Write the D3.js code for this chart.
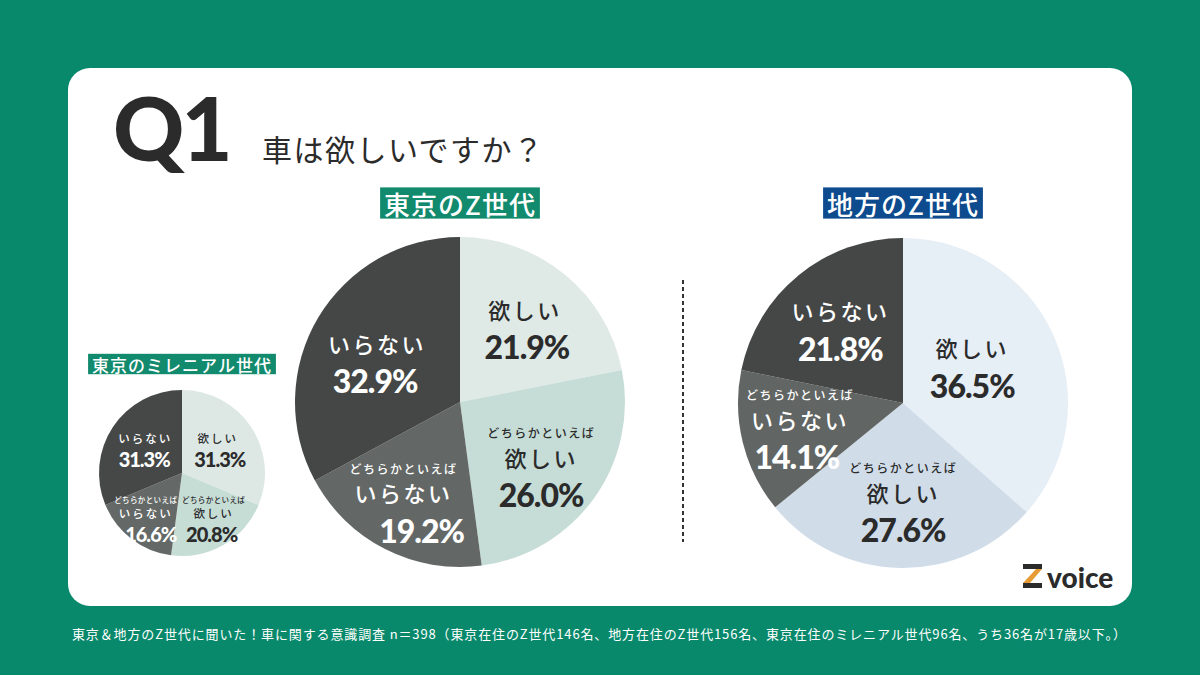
<!DOCTYPE html>
<html lang="ja">
<head>
<meta charset="utf-8">
<script src="https://d3js.org/d3.v7.min.js"></script>
<style>
  body { margin: 0; background: #08896b; }
  svg { display: block; }
  .jp { font-family: "Noto Sans CJK JP", sans-serif; }
  .num { font-family: Lato, "Noto Sans", sans-serif; font-weight: 900; }
</style>
</head>
<body>
<svg width="1200" height="675"></svg>
<script>
// answer categories, clockwise from 12 o'clock
var categories = ["欲しい", "どちらかといえば欲しい", "どちらかといえばいらない", "いらない"];
var mainLabels = ["欲しい", "欲しい", "いらない", "いらない"];
var prefixLabels = ["", "どちらかといえば", "どちらかといえば", ""];

// percentages
var millennialValues = [31.3, 20.8, 16.6, 31.3];
var tokyoZValues = [21.9, 26.0, 19.2, 32.9];
var localZValues = [36.5, 27.6, 14.1, 21.8];

var chartTitles = ["東京のミレニアル世代", "東京のZ世代", "地方のZ世代"];

var footnote = "東京＆地方のZ世代に聞いた！車に関する意識調査 n＝398（東京在住のZ世代146名、地方在住のZ世代156名、東京在住のミレニアル世代96名、うち36名が17歳以下。）";

var svg = d3.select("svg");

// white card
svg.append("rect")
    .attr("x", 68).attr("y", 68)
    .attr("width", 1064).attr("height", 538)
    .attr("rx", 22)
    .attr("fill", "#ffffff");

// heading
svg.append("text")
    .attr("class", "num")
    .attr("x", 113).attr("y", 161)
    .attr("font-size", 88)
    .attr("letter-spacing", -3)
    .attr("fill", "#2b2b2b")
    .text("Q1");

svg.append("text")
    .attr("class", "jp")
    .attr("x", 262).attr("y", 161)
    .attr("font-size", 30)
    .attr("letter-spacing", 1.5)
    .attr("fill", "#2b2b2b")
    .text("車は欲しいですか？");

// one pie per group; nudge = [dx, dy, extra dx of the % line] per slice
var charts = [
  { values: millennialValues, title: chartTitles[0], cx: 182, cy: 473, r: 83,
    colors: ["#dde8e5", "#c6ddd6", "#646967", "#454847"], badge: "#128a6d",
    badgeY: 364, badgeFont: 17, smallFont: 7.5, smallSp: 0.4, mainFont: 11.5, mainSp: 2, pctFont: 20,
    gapSM: 13, gapMP: 21, k: 0.62,
    nudge: [[-7, 4, 2], [6, -1, -2], [-5, 3, 5], [6, 4, -1]] },
  { values: tokyoZValues, title: chartTitles[1], cx: 460, cy: 402, r: 165,
    colors: ["#dfe9e6", "#c5ddd6", "#636866", "#444746"], badge: "#128a6d",
    badgeY: 203, badgeFont: 26, smallFont: 12, smallSp: 1.5, mainFont: 22, mainSp: 2.5, pctFont: 32,
    gapSM: 24, gapMP: 38, k: 0.62,
    nudge: [[0, 5, 2], [-2, 2, 0], [-10, 6, 18], [5, 12, -2]] },
  { values: localZValues, title: chartTitles[2], cx: 903, cy: 403, r: 165,
    colors: ["#e6eef6", "#d0dde9", "#616563", "#444746"], badge: "#0d4b8e",
    badgeY: 203, badgeFont: 26, smallFont: 12, smallSp: 1.5, mainFont: 22, mainSp: 2.5, pctFont: 32,
    gapSM: 24, gapMP: 38, k: 0.6,
    nudge: [[-21, 4, 0], [2, -3, 0], [-7, -1, -3], [0, 3, 0]] }
];

var pie = d3.pie().sort(null).value(function(d) { return d; });

charts.forEach(function(c) {
  var g = svg.append("g").attr("transform", "translate(" + c.cx + "," + c.cy + ")");
  var arc = d3.arc().innerRadius(0).outerRadius(c.r);
  var labelArc = d3.arc().innerRadius(c.r * c.k).outerRadius(c.r * c.k);
  var color = d3.scaleOrdinal().domain(categories).range(c.colors);
  var arcs = pie(c.values);

  g.selectAll("path")
    .data(arcs)
    .enter()
    .append("path")
      .attr("d", arc)
      .attr("fill", function(d, i) { return color(categories[i]); });

  arcs.forEach(function(d, i) {
    var p = labelArc.centroid(d);
    var n = c.nudge[i];
    var fill = i >= 2 ? "#ffffff" : "#2b2b2b";
    var lines = [];
    if (prefixLabels[i]) lines.push({ t: prefixLabels[i], size: c.smallFont, sp: c.smallSp, cls: "jp", gap: 0, dx: 0 });
    lines.push({ t: mainLabels[i], size: c.mainFont, sp: c.mainSp, cls: "jp", gap: prefixLabels[i] ? c.gapSM : 0, dx: 0 });
    lines.push({ t: d3.format(".1f")(d.data) + "%", size: c.pctFont, sp: -1, cls: "num", gap: c.gapMP, dx: n[2] });
    var total = d3.sum(lines, function(l) { return l.gap; });
    var y = p[1] + n[1] - total / 2;
    lines.forEach(function(l) {
      y += l.gap;
      g.append("text")
        .attr("class", l.cls)
        .attr("x", p[0] + n[0] + l.dx).attr("y", y)
        .attr("text-anchor", "middle")
        .attr("dominant-baseline", "central")
        .attr("font-size", l.size)
        .attr("font-weight", l.cls === "jp" ? 500 : 900)
        .attr("letter-spacing", l.sp)
        .attr("fill", fill)
        .text(l.t);
    });
  });

  // title badge
  var t = svg.append("text")
    .attr("class", "jp")
    .attr("x", c.cx).attr("y", c.badgeY)
    .attr("text-anchor", "middle")
    .attr("dominant-baseline", "central")
    .attr("font-size", c.badgeFont)
    .attr("font-weight", 500)
    .attr("letter-spacing", 1)
    .attr("fill", "#ffffff")
    .text(c.title);
  var bb = t.node().getBBox();
  svg.insert("rect", function() { return t.node(); })
    .attr("x", bb.x - 4).attr("y", c.badgeY - c.badgeFont * 0.6)
    .attr("width", bb.width + 8).attr("height", c.badgeFont * 1.2)
    .attr("fill", c.badge);
});

// dashed divider
svg.append("line")
    .attr("x1", 683).attr("x2", 683)
    .attr("y1", 280).attr("y2", 542)
    .attr("stroke", "#333")
    .attr("stroke-width", 2)
    .attr("stroke-dasharray", "4,3");

// Z voice logo
var logo = svg.append("g").attr("transform", "translate(1023,564)");
logo.append("rect").attr("x", 0).attr("y", 0).attr("width", 19).attr("height", 5).attr("fill", "#2b2b2b");
logo.append("polygon").attr("points", "13,5 19,5 7,19 0,19").attr("fill", "#e69b35");
logo.append("rect").attr("x", 0).attr("y", 19).attr("width", 19).attr("height", 5).attr("fill", "#2b2b2b");
logo.append("text")
    .attr("x", 24).attr("y", 24)
    .attr("font-family", "Lato, sans-serif")
    .attr("font-weight", 900)
    .attr("font-size", 28)
    .attr("fill", "#2b2b2b")
    .text("voice");

// footnote
svg.append("text")
    .attr("class", "jp")
    .attr("x", 72).attr("y", 639)
    .attr("font-size", 13)
    .attr("textLength", 1054)
    .attr("lengthAdjust", "spacing")
    .attr("fill", "#ffffff")
    .text(footnote);
</script>
</body>
</html>
